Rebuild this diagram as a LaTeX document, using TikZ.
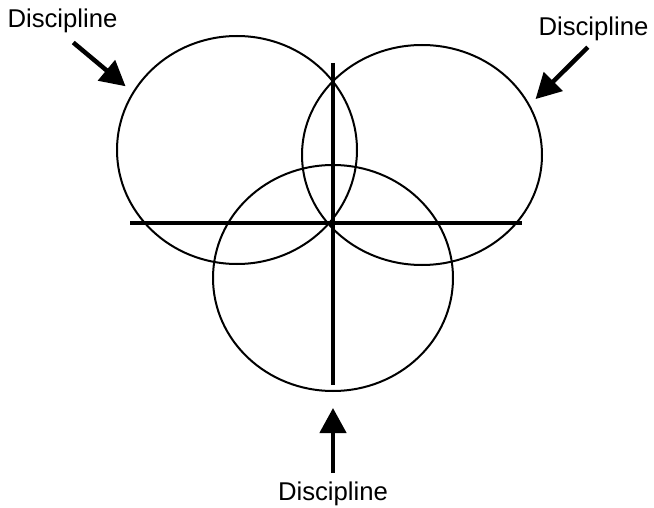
\documentclass[tikz,border=0pt]{standalone}
\usepackage{fontspec}
\setmainfont{Liberation Sans}
\usetikzlibrary{arrows.meta,shapes.geometric}

\begin{document}
\begin{tikzpicture}[
  x=1pt, y=-1pt,
  ring/.style={
    ellipse,
    draw,
    line width=2pt,
    inner sep=0pt,
    minimum width=240pt
  },
  word/.style={
    inner sep=0pt,
    anchor=base,
    font=\fontsize{25.7}{30}\selectfont
  },
  pointer/.style={line width=4.5pt, -{Triangle[length=25pt, width=26pt]}},
  axis/.style={line width=4pt}
]
\useasboundingbox (0,0) rectangle (654,508);

\node[ring, minimum height=228pt] (leftring) at (237,150) {};
\node[ring, minimum height=220pt] (rightring) at (422,155) {};
\node[ring, minimum height=226pt] (lowring) at (333,278) {};

\draw[axis] (130,223) -- (522,223);
\draw[axis] (333,63) -- (333,385);

\node[word] (leftword) at (62.5,28) {Discipline};
\node[word] (rightword) at (593.5,36) {Discipline};
\node[word] (lowword) at (333,500) {Discipline};

\draw[pointer, shorten <=14pt, shorten >=9pt] (leftword.south) -- (leftring.151);
\draw[pointer, shorten <=8pt, shorten >=8pt] (rightword.south) -- (rightring.25);
\draw[pointer, shorten <=8pt, shorten >=16pt] (lowword.north) -- (lowring.south);

\end{tikzpicture}
\end{document}
